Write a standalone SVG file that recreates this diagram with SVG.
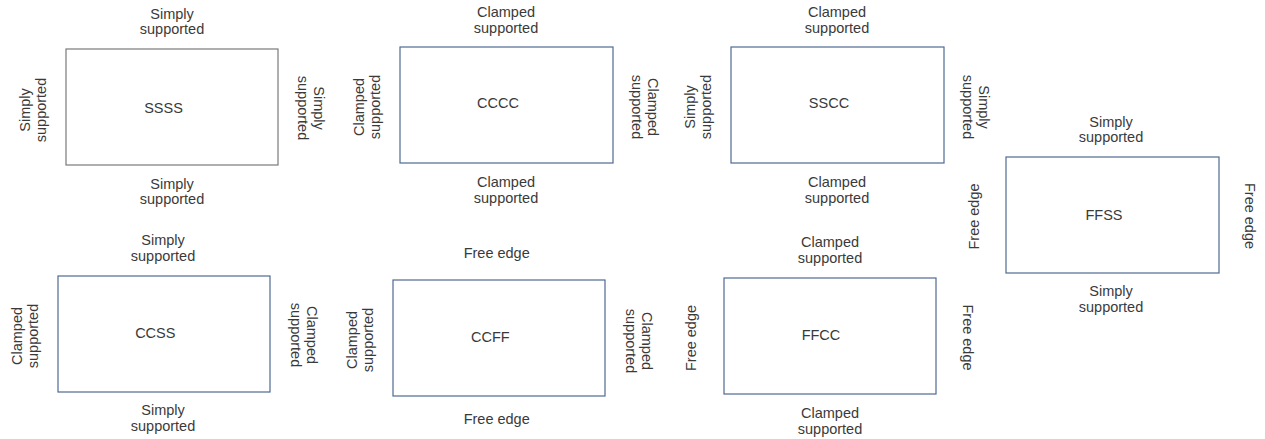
<svg xmlns="http://www.w3.org/2000/svg" width="1265" height="439" viewBox="0 0 1265 439">
<style>
  text { font-family: "Liberation Sans", Arial, sans-serif; font-size: 14.5px; fill: #3a3a3a; text-anchor: middle; }
  .plate { fill: #ffffff; stroke: #4f6a92; stroke-width: 1.2; }
  .plate.gray { stroke: #7a7a7a; }
</style>
<rect width="1265" height="439" fill="#ffffff"/>
<g id="connectors"/>

<g id="node-ssss">
  <rect class="plate gray" x="66" y="49" width="212" height="116"/>
  <text x="163.5" y="113">SSSS</text>
  <text x="172" y="18.5">Simply<tspan x="172" dy="15.5">supported</tspan></text>
  <text x="172" y="188.5">Simply<tspan x="172" dy="15.5">supported</tspan></text>
  <text transform="translate(29.5,110) rotate(-90)" x="0" y="0">Simply<tspan x="0" dy="16">supported</tspan></text>
  <text transform="translate(313.5,108) rotate(90)" x="0" y="0">Simply<tspan x="0" dy="16">supported</tspan></text>
</g>

<g id="node-cccc">
  <rect class="plate" x="400" y="47" width="213" height="116"/>
  <text x="498" y="107.5">CCCC</text>
  <text x="506" y="17">Clamped<tspan x="506" dy="15.5">supported</tspan></text>
  <text x="506" y="187">Clamped<tspan x="506" dy="15.5">supported</tspan></text>
  <text transform="translate(364,107) rotate(-90)" x="0" y="0">Clamped<tspan x="0" dy="16">supported</tspan></text>
  <text transform="translate(648,107) rotate(90)" x="0" y="0">Clamped<tspan x="0" dy="16">supported</tspan></text>
</g>

<g id="node-sscc">
  <rect class="plate" x="731" y="47" width="213" height="116"/>
  <text x="829" y="107.5">SSCC</text>
  <text x="837" y="17">Clamped<tspan x="837" dy="15.5">supported</tspan></text>
  <text x="837" y="187">Clamped<tspan x="837" dy="15.5">supported</tspan></text>
  <text transform="translate(695,107) rotate(-90)" x="0" y="0">Simply<tspan x="0" dy="16">supported</tspan></text>
  <text transform="translate(979,107) rotate(90)" x="0" y="0">Simply<tspan x="0" dy="16">supported</tspan></text>
</g>

<g id="node-ffss">
  <rect class="plate" x="1006" y="157" width="213" height="116"/>
  <text x="1104" y="219.5">FFSS</text>
  <text x="1111" y="126.5">Simply<tspan x="1111" dy="15.5">supported</tspan></text>
  <text x="1111" y="296">Simply<tspan x="1111" dy="15.5">supported</tspan></text>
  <text transform="translate(978.5,216.5) rotate(-90)" x="0" y="0">Free edge</text>
  <text transform="translate(1245,216) rotate(90)" x="0" y="0">Free edge</text>
</g>

<g id="node-ccss">
  <rect class="plate" x="58" y="276" width="212" height="116"/>
  <text x="155.3" y="337.5">CCSS</text>
  <text x="163" y="245">Simply<tspan x="163" dy="15.5">supported</tspan></text>
  <text x="163" y="415">Simply<tspan x="163" dy="15.5">supported</tspan></text>
  <text transform="translate(22,336) rotate(-90)" x="0" y="0">Clamped<tspan x="0" dy="16">supported</tspan></text>
  <text transform="translate(306.5,335) rotate(90)" x="0" y="0">Clamped<tspan x="0" dy="16">supported</tspan></text>
</g>

<g id="node-ccff">
  <rect class="plate" x="393" y="280" width="212" height="116"/>
  <text x="490.3" y="341.7">CCFF</text>
  <text x="496.7" y="258.3">Free edge</text>
  <text x="496.7" y="424">Free edge</text>
  <text transform="translate(357,340) rotate(-90)" x="0" y="0">Clamped<tspan x="0" dy="16">supported</tspan></text>
  <text transform="translate(641.5,341) rotate(90)" x="0" y="0">Clamped<tspan x="0" dy="16">supported</tspan></text>
</g>

<g id="node-ffcc">
  <rect class="plate" x="724" y="278" width="212" height="116"/>
  <text x="821" y="340">FFCC</text>
  <text x="830" y="247.3">Clamped<tspan x="830" dy="15.5">supported</tspan></text>
  <text x="830" y="418.3">Clamped<tspan x="830" dy="15.5">supported</tspan></text>
  <text transform="translate(695.5,338) rotate(-90)" x="0" y="0">Free edge</text>
  <text transform="translate(963,337.5) rotate(90)" x="0" y="0">Free edge</text>
</g>
</svg>
